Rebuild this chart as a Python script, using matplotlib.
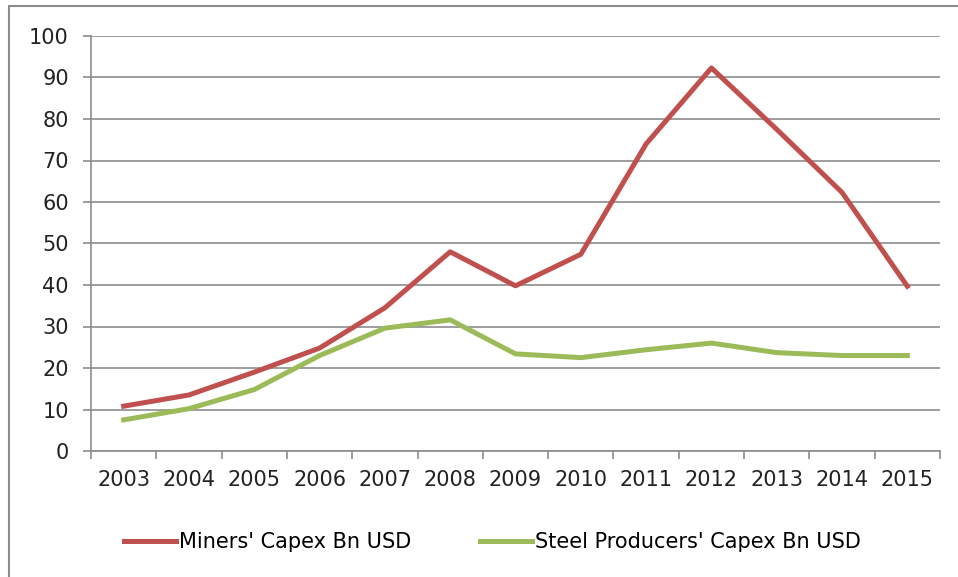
#!/usr/bin/env python3

import numpy as np
import matplotlib
matplotlib.use('Agg')
import matplotlib.pyplot as plt
from matplotlib.patches import Rectangle

years = ['2003', '2004', '2005', '2006', '2007', '2008', '2009',
	'2010', '2011', '2012', '2013', '2014', '2015']
miners = [10.8, 13.5, 19.0, 24.8, 34.5, 48.0, 39.8, 47.4, 74.0, 92.3, 77.5, 62.3, 39.7]
steel = [7.5, 10.2, 14.8, 23.0, 29.6, 31.6, 23.4, 22.5, 24.4, 26.0, 23.7, 23.0, 23.0]

plt.rcParams['font.family'] = ['DejaVu Sans']

fig = plt.figure(figsize=(9.58, 5.77), dpi=100)
ax = fig.add_axes([91/958, 1 - 451/577, (940 - 91)/958, (451 - 36)/577])

x = np.arange(len(years))
ax.plot(x, miners, color='#C0504D', lw=3.6, label="Miners' Capex Bn USD")
ax.plot(x, steel, color='#9BBB59', lw=3.6, label="Steel Producers' Capex Bn USD")

ax.set_xlim(-0.5, len(years) - 0.5)
ax.set_ylim(0, 100)
ax.set_yticks(np.arange(0, 101, 10))
ax.yaxis.grid(True, color='#8c8c8c', lw=1.2)
ax.set_axisbelow(True)

# labels at the category centres, tick marks at the boundaries
ax.set_xticks(x)
ax.set_xticklabels(years)
ax.set_xticks(np.arange(-0.5, len(years)), minor=True)
ax.tick_params(axis='x', which='major', length=0, pad=14, labelsize=15, colors='#222222')
ax.tick_params(axis='x', which='minor', length=6, width=1.2, color='#8c8c8c', direction='out')
ax.tick_params(axis='y', length=6, width=1.2, color='#8c8c8c', pad=10, labelsize=15, labelcolor='#222222')

for s in ['top', 'right']:
	ax.spines[s].set_visible(False)
for s in ['left', 'bottom']:
	ax.spines[s].set_color('#8c8c8c')
	ax.spines[s].set_linewidth(1.2)

ax.legend(loc='center', bbox_to_anchor=(0.4727, -0.22), ncol=2, frameon=False,
	fontsize=15, handlelength=2.5, handletextpad=0.15, columnspacing=3.3)

# outer chart frame (cut off at right and bottom)
fig.patches.append(Rectangle((9/958, -0.1), 1.2, 1.1 - 6/577, transform=fig.transFigure,
	fill=False, edgecolor='#8c8c8c', lw=1.5))

fig.savefig('out.png', dpi=100)
